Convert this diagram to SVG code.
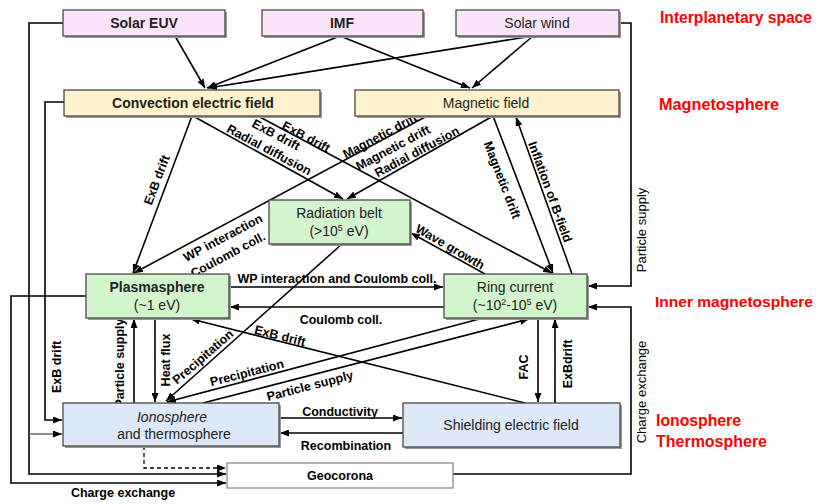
<svg xmlns="http://www.w3.org/2000/svg" width="825" height="504" viewBox="0 0 825 504">
<defs>
<marker id="ah" markerUnits="userSpaceOnUse" markerWidth="9" markerHeight="7" refX="9" refY="3.5" orient="auto">
<path d="M0,0 L9,3.5 L0,7 z" fill="#000"/>
</marker>
<style>
.sh{fill:#9a9a9a}
.bx{stroke:#4a4a4a;stroke-width:1.3}
.pk{fill:#fbe4f9}
.yl{fill:#fff2cc}
.gr{fill:#d3f5cd}
.bl{fill:#dde9f8}
.wh{fill:#ffffff;stroke:#8a8a8a}
.t{font-family:"Liberation Sans",Arial,sans-serif;font-size:14px;fill:#222;text-anchor:middle}
.tb{font-weight:bold}
.lb{font-family:"Liberation Sans",Arial,sans-serif;font-size:12.5px;font-weight:bold;fill:#000;text-anchor:middle}
.lv{font-family:"Liberation Sans",Arial,sans-serif;font-size:13px;fill:#000;text-anchor:middle}
.rd{font-family:"Liberation Sans",Arial,sans-serif;font-size:17px;font-weight:bold;fill:#ff0000}
.c{fill:none;stroke:#000;stroke-width:1.6}
.g{fill:none;stroke:#666;stroke-width:1.4}
.d{fill:none;stroke:#000;stroke-width:1.3;stroke-dasharray:4,3}
</style>
</defs>
<rect width="825" height="504" fill="#fff"/>

<g id="connectors">
<path class="c" d="M175,36 L205,88" marker-end="url(#ah)"/>
<path class="c" d="M340,36 L207,88" marker-end="url(#ah)"/>
<path class="c" d="M340,36 L470,88" marker-end="url(#ah)"/>
<path class="c" d="M533,36 L208,88" marker-end="url(#ah)"/>
<path class="c" d="M533,36 L472,88" marker-end="url(#ah)"/>
<path class="c" d="M192,116 L133,273" marker-end="url(#ah)"/>
<path class="c" d="M193,116 L343,199" marker-end="url(#ah)"/>
<path class="c" d="M258,116 L552,273" marker-end="url(#ah)"/>
<path class="c" d="M427,116 L134,273" marker-end="url(#ah)"/>
<path class="c" d="M493,116 L347,199" marker-end="url(#ah)"/>
<path class="c" d="M493,116 L553,273" marker-end="url(#ah)"/>
<path class="c" d="M572,274 L516,117" marker-end="url(#ah)"/>
<path class="c" d="M485,274 L411,233" marker-end="url(#ah)"/>
<path class="c" d="M229,287 L443,287" marker-end="url(#ah)"/>
<path class="c" d="M444,307 L230,307" marker-end="url(#ah)"/>
<path class="c" d="M342,244 L166,401" marker-end="url(#ah)"/>
<path class="c" d="M483,318 L167,402" marker-end="url(#ah)"/>
<path class="c" d="M203,403 L529,319" marker-end="url(#ah)"/>
<path class="c" d="M525,403 L191,319" marker-end="url(#ah)"/>
<path class="c" d="M134,403 L134,319" marker-end="url(#ah)"/>
<path class="c" d="M155,318 L155,402" marker-end="url(#ah)"/>
<path class="c" d="M538,318 L538,402" marker-end="url(#ah)"/>
<path class="c" d="M555,403 L555,319" marker-end="url(#ah)"/>
<path class="c" d="M279,418 L402,418" marker-end="url(#ah)"/>
<path class="c" d="M403,433 L280,433" marker-end="url(#ah)"/>
<path class="c" d="M63,23 L29,23 L29,474 L226,474" marker-end="url(#ah)"/>
<path class="g" d="M29,434 L62,434" marker-end="url(#ah)"/>
<path class="c" d="M64,102 L45,102 L45,420 L62,420" marker-end="url(#ah)"/>
<path class="c" d="M86,296 L11,296 L11,483 L226,483" marker-end="url(#ah)"/>
<path class="d" d="M144,446 L144,468 L226,468" marker-end="url(#ah)"/>
<path class="c" d="M619,23 L631,23 L631,286 L588,286" marker-end="url(#ah)"/>
<path class="c" d="M453,474 L631,474 L631,307 L588,307" marker-end="url(#ah)"/>
</g>

<g id="connector-labels">
<text class="lb" dy="4" transform="translate(157,180) rotate(-69)">ExB drift</text>
<text class="lb" dy="4" transform="translate(276,135) rotate(28)">ExB drift</text>
<text class="lb" dy="4" transform="translate(269,150) rotate(28)">Radial diffusion</text>
<text class="lb" dy="4" transform="translate(306,137) rotate(28)">ExB drift</text>
<text class="lb" dy="4" transform="translate(380,136) rotate(-28)">Magnetic drift</text>
<text class="lb" dy="4" transform="translate(393,148) rotate(-28)">Magnetic drift</text>
<text class="lb" dy="4" transform="translate(417,152) rotate(-28)">Radial diffusion</text>
<text class="lb" dy="4" transform="translate(223,238) rotate(-28)">WP interaction</text>
<text class="lb" dy="4" transform="translate(228,255) rotate(-28)">Coulomb coll.</text>
<text class="lb" dy="4" transform="translate(450,247) rotate(30)">Wave growth</text>
<text class="lb" dy="4" transform="translate(502,180) rotate(69)">Magnetic drift</text>
<text class="lb" dy="4" transform="translate(550,192) rotate(70)">Inflation of B-field</text>
<text class="lb" x="337" y="283">WP interaction and Coulomb coll.</text>
<text class="lb" x="341" y="324">Coulomb coll.</text>
<text class="lb" dy="4" transform="translate(203,357) rotate(-41)">Precipitation</text>
<text class="lb" dy="4" transform="translate(280,336) rotate(14)">ExB drift</text>
<text class="lb" dy="4" transform="translate(247,373) rotate(-14.5)">Precipitation</text>
<text class="lb" dy="4" transform="translate(310,386) rotate(-14.5)">Particle supply</text>
<text class="lb" dy="4" transform="translate(120,363) rotate(-90)">Particle supply</text>
<text class="lb" dy="4" transform="translate(166,360) rotate(-90)">Heat flux</text>
<text class="lb" dy="4" transform="translate(57,367) rotate(-90)">ExB drift</text>
<text class="lb" dy="4" transform="translate(524,367) rotate(-90)">FAC</text>
<text class="lb" dy="4" transform="translate(568,364) rotate(-90)">ExBdrift</text>
<text class="lb" x="340" y="416">Conductivity</text>
<text class="lb" x="346" y="450">Recombination</text>
<text class="lb" x="123" y="497">Charge exchange</text>
<text class="lv" dy="4" transform="translate(642,230) rotate(-90)">Particle supply</text>
<text class="lv" dy="4" transform="translate(642,392) rotate(-90)">Charge exchange</text>
</g>

<g id="solar-euv">
<rect class="sh" x="65" y="12" width="162" height="26"/>
<rect class="bx pk" x="63" y="10" width="162" height="26"/>
<text class="t tb" x="144" y="28">Solar EUV</text>
</g>
<g id="imf">
<rect class="sh" x="264" y="12" width="161" height="26"/>
<rect class="bx pk" x="262" y="10" width="161" height="26"/>
<text class="t tb" x="342" y="28">IMF</text>
</g>
<g id="solar-wind">
<rect class="sh" x="458" y="12" width="163" height="26"/>
<rect class="bx pk" x="456" y="10" width="163" height="26"/>
<text class="t" x="537" y="28">Solar wind</text>
</g>
<g id="convection-electric-field">
<rect class="sh" x="66" y="92" width="256" height="26"/>
<rect class="bx yl" x="64" y="90" width="256" height="26"/>
<text class="t tb" x="193" y="108">Convection electric field</text>
</g>
<g id="magnetic-field">
<rect class="sh" x="357" y="92" width="264" height="26"/>
<rect class="bx yl" x="355" y="90" width="264" height="26"/>
<text class="t" x="486" y="108">Magnetic field</text>
</g>
<g id="radiation-belt">
<rect class="sh" x="271" y="202" width="141" height="44"/>
<rect class="bx gr" x="269" y="200" width="141" height="44"/>
<text class="t" x="339" y="218">Radiation belt</text>
<text class="t" x="339" y="236">(&gt;10<tspan font-size="9" dy="-5">5</tspan><tspan dy="5"> eV)</tspan></text>
</g>
<g id="plasmasphere">
<rect class="sh" x="88" y="276" width="143" height="44"/>
<rect class="bx gr" x="86" y="274" width="143" height="44"/>
<text class="t tb" x="157" y="292">Plasmasphere</text>
<text class="t" x="157" y="310">(~1 eV)</text>
</g>
<g id="ring-current">
<rect class="sh" x="446" y="276" width="143" height="44"/>
<rect class="bx gr" x="444" y="274" width="143" height="44"/>
<text class="t" x="515" y="292">Ring current</text>
<text class="t" x="515" y="310">(~10<tspan font-size="9" dy="-5">2</tspan><tspan dy="5">-10</tspan><tspan font-size="9" dy="-5">5</tspan><tspan dy="5"> eV)</tspan></text>
</g>
<g id="ionosphere-thermosphere">
<rect class="sh" x="65" y="405" width="216" height="43"/>
<rect class="bx bl" x="63" y="403" width="216" height="43"/>
<text class="t" x="172" y="422" font-style="italic">Ionosphere</text>
<text class="t" x="174" y="439">and thermosphere</text>
</g>
<g id="shielding-electric-field">
<rect class="sh" x="405" y="405" width="217" height="44"/>
<rect class="bx bl" x="403" y="403" width="217" height="44"/>
<text class="t" x="511" y="430">Shielding electric field</text>
</g>
<g id="geocorona">
<rect class="wh" x="227" y="463" width="226" height="25" stroke-width="1.3"/>
<text class="lb" x="340" y="480">Geocorona</text>
</g>

<g id="region-labels">
<text class="rd" x="660" y="23" textLength="152" lengthAdjust="spacingAndGlyphs">Interplanetary space</text>
<text class="rd" x="659" y="110" textLength="120" lengthAdjust="spacingAndGlyphs">Magnetosphere</text>
<text class="rd" x="655" y="307" style="font-size:15.5px" textLength="158" lengthAdjust="spacingAndGlyphs">Inner magnetosphere</text>
<text class="rd" x="656" y="426" textLength="85" lengthAdjust="spacingAndGlyphs">Ionosphere</text>
<text class="rd" x="656" y="447" textLength="111" lengthAdjust="spacingAndGlyphs">Thermosphere</text>
</g>
</svg>
